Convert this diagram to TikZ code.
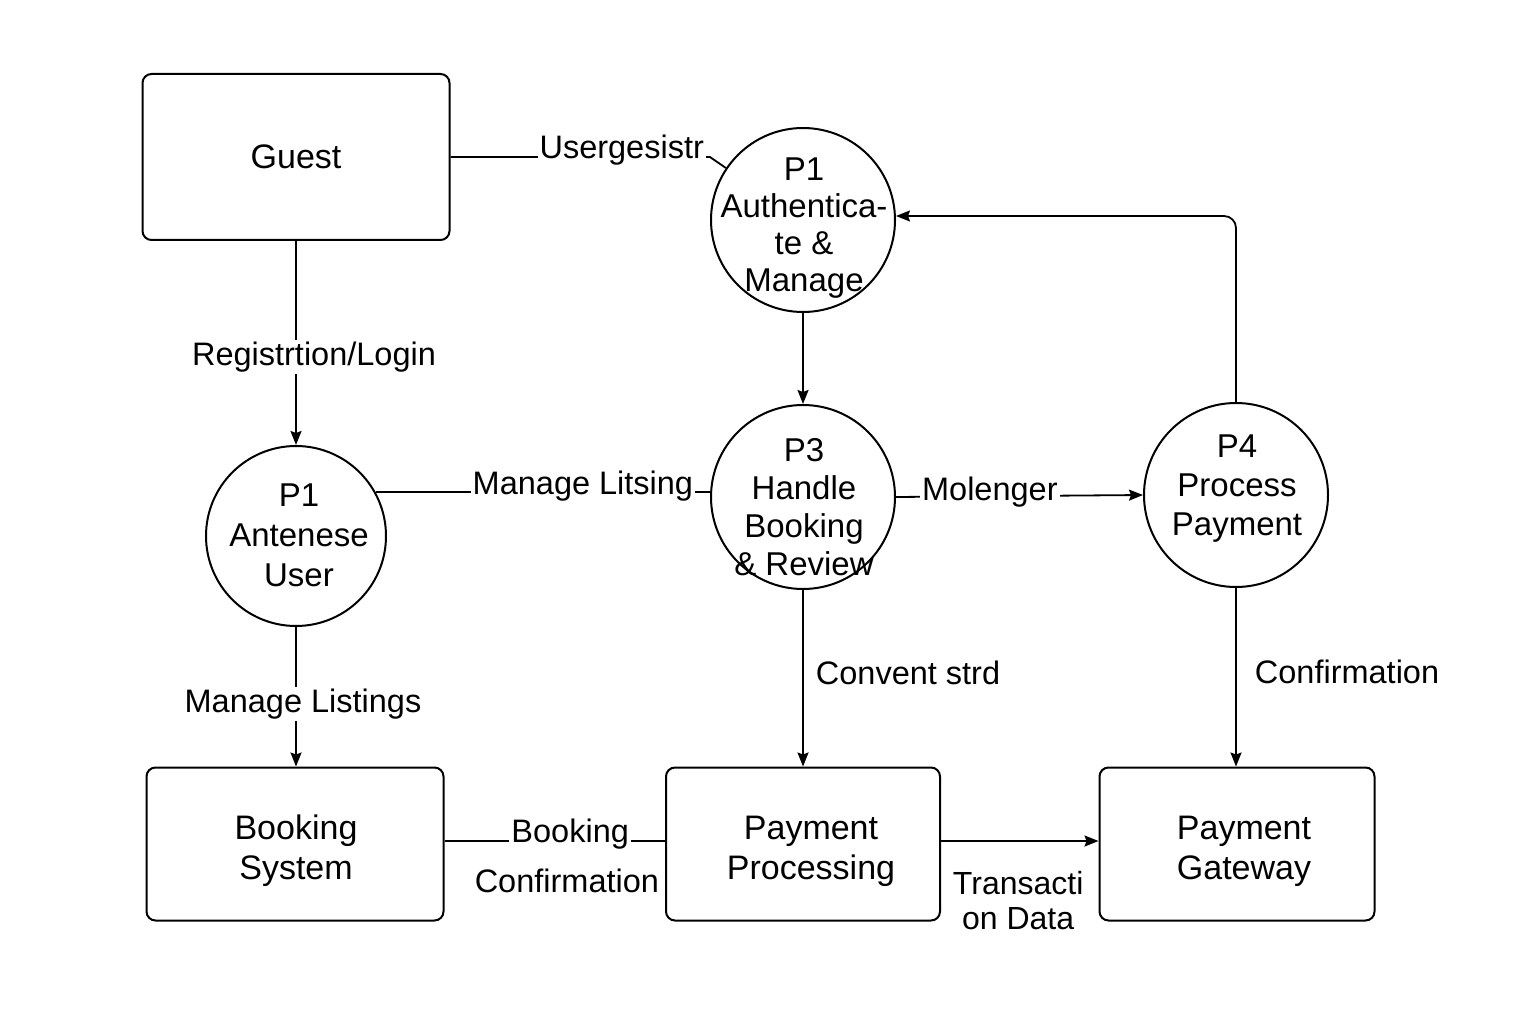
\documentclass[tikz,border=0pt]{standalone}
\usepackage{fontspec}
\setmainfont{Liberation Sans}
\usepackage{tikz}
\usetikzlibrary{shapes,arrows.meta,positioning}

\begin{document}
\begin{tikzpicture}[
    x=1pt, y=-1pt,
    entity/.style={
        rectangle,
        draw=black,
        line width=2pt,
        rounded corners=9pt,
        align=center,
        font=\fontsize{34}{40}\selectfont
    },
    etext/.style={
        align=center,
        font=\fontsize{34}{40}\selectfont
    },
    process/.style={
        circle,
        draw=black,
        line width=2pt,
        inner sep=0pt,
        minimum size=184pt
    },
    ptext/.style={
        align=center,
        font=\fontsize{33}{38}\selectfont
    },
    flow/.style={
        line width=1.8pt,
        -{Stealth[length=14pt,width=11pt,inset=2pt]}
    },
    link/.style={
        line width=1.8pt
    },
    lbl/.style={
        fill=white,
        inner sep=2pt,
        font=\fontsize{32.5}{36}\selectfont
    }
]
\useasboundingbox (0,0) rectangle (1536,1024);

% Externe Entitaeten
\node[entity, minimum width=307pt, minimum height=166pt] (guest) at (296,157) {Guest};

\node[entity, minimum width=297pt, minimum height=153pt] (bsys) at (295,844) {};
\node[etext] (bsys-txt) at (296,851) {Booking\\System};

\node[entity, minimum width=274pt, minimum height=153pt] (payproc) at (803,844) {};
\node[etext] (payproc-txt) at (811,851) {Payment\\Processing};

\node[entity, minimum width=275pt, minimum height=153pt] (gateway) at (1237,844) {};
\node[etext] (gateway-txt) at (1244,851) {Payment\\Gateway};

% Prozesse
\node[process] (p1a) at (803,220) {};
\node[ptext, font=\fontsize{33}{37}\selectfont] (p1a-txt) at (804,228) {P1\\Authentica-\\te \&\\Manage};

\node[process, minimum size=180pt] (p1u) at (296,536) {};
\node[ptext, font=\fontsize{33}{40}\selectfont] (p1u-txt) at (299,535) {P1\\Antenese\\User};

\node[process] (p3) at (803,497) {};
\node[ptext] (p3-txt) at (804,507) {P3\\Handle\\Booking\\\& Review};

\node[process] (p4) at (1236,495) {};
\node[ptext, font=\fontsize{33}{39}\selectfont] (p4-txt) at (1237,489) {P4\\Process\\Payment};

% Datenfluesse links
\draw[flow] (guest) -- node[lbl, pos=0.57, xshift=18pt] {Registrtion/Login} (p1u);
\draw[flow] (p1u.south) -- node[lbl, pos=0.55, xshift=7pt] {Manage Listings} (p1u.south |- bsys.north);

% Datenfluesse oben und mitte
\draw[link] (guest.east) -- node[lbl, pos=0.66, yshift=7pt] {Usergesistr}
    ([xshift=-16pt]p1a.146 |- guest.east) -- (p1a.146);
\draw[link] (p1u.29) -- node[lbl, pos=0.62, yshift=6pt] {Manage Litsing} (p1u.29 -| p3.west);
\draw[flow] (p3.east) -- node[lbl, pos=0.38, yshift=4pt] {Molenger} (p4.west);
\draw[flow] (p1a) -- (p3);
\draw[flow, rounded corners=12pt] (p4.north) |- ([yshift=4pt]p1a.east);

% Datenfluesse unten
\draw[flow] (p3) -- node[lbl, right, pos=0.47, xshift=10pt] {Convent strd} (payproc);
\draw[flow] (p4.south) -- node[lbl, right, pos=0.47, xshift=16pt] {Confirmation} (p4.south |- gateway.north);
\draw[link] ([yshift=3pt]bsys.east) -- node[lbl, pos=0.57, yshift=7pt] {Booking}
    node[lbl, pos=0.555, yshift=-40pt] {Confirmation} ([yshift=3pt]payproc.west);
\draw[flow] ([yshift=3pt]payproc.east) -- node[lbl, align=center, pos=0.49, yshift=-60pt,
    font=\fontsize{32}{35}\selectfont] {Transacti\\on Data} ([yshift=3pt]gateway.west);

\end{tikzpicture}
\end{document}
